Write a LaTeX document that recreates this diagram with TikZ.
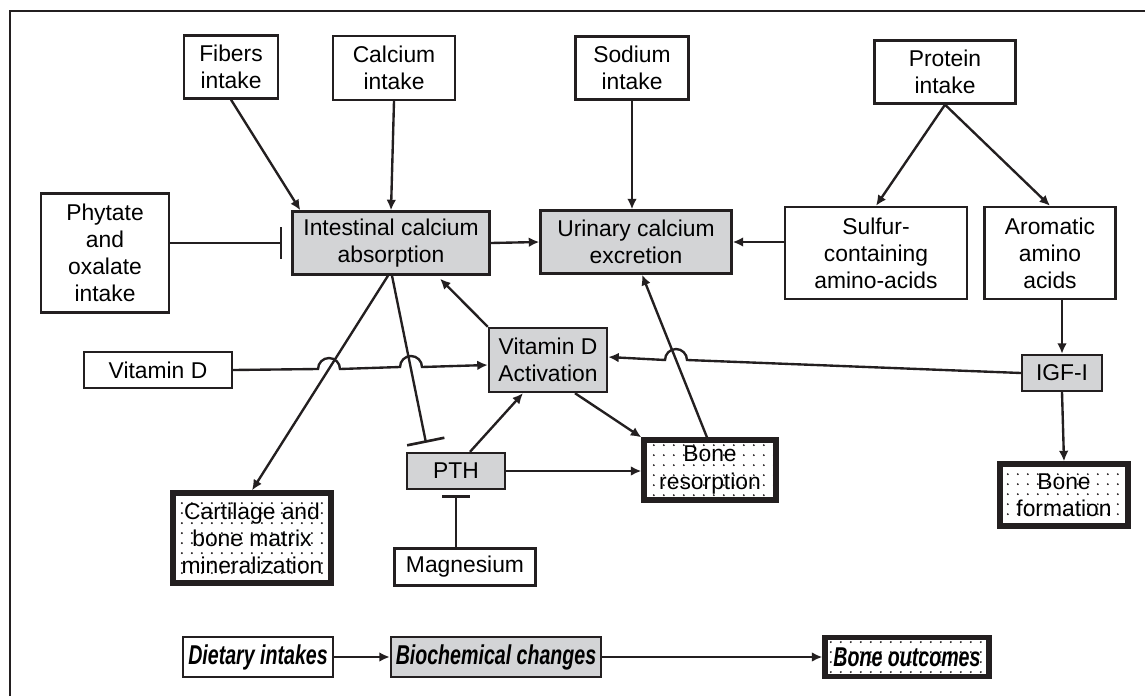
\documentclass[tikz,border=0pt]{standalone}
\usepackage{fontspec}
\setmainfont{Liberation Sans}
\newfontfamily\legendfont[FakeStretch=0.72]{Liberation Sans}
\usepackage{tikz}
\usetikzlibrary{arrows.meta, positioning, calc, patterns.meta}
\definecolor{inkdark}{RGB}{35,31,32}
\definecolor{procgray}{RGB}{211,212,214}
\newcommand{\boxfont}{\fontsize{13}{15.4}\selectfont}
\tikzdeclarepattern{
  name=sparsedots,
  type=uncolored,
  bounding box={(0pt,0pt) and (5.6pt,5.6pt)},
  tile size={(5.6pt,5.6pt)},
  code={\fill (2.8pt,2.8pt) circle (0.6pt);}
}

\begin{document}
\begin{tikzpicture}[x=0.02cm,y=-0.02cm,
  % pixel grid: x to the right, y downwards
  inbox/.style={draw=inkdark,line width=1.35pt,align=center,inner sep=0pt,font=\boxfont},
  proc/.style={inbox,fill=procgray},
  outc/.style={inbox,line width=3pt,pattern=sparsedots,pattern color=inkdark},
  legend/.style={font=\legendfont\fontsize{15.5}{17}\selectfont\bfseries\itshape},
  arr/.style={-{Latex[length=6pt,width=5.5pt]},line width=1.35pt,draw=inkdark},
  inhib/.style={-{Bar[width=#1,line width=1.5pt]},line width=1.35pt,draw=inkdark},
  inhib/.default=0.64cm]

  \useasboundingbox (0,0) rectangle (1145,696);
  \draw[line width=1.6pt,inkdark] (10,696) -- (10,11) -- (1145,11);

  % dietary intakes
  \node[inbox,minimum width=1.88cm,minimum height=1.26cm](fib) at (231,67) {Fibers\\intake};
  \node[inbox,minimum width=2.44cm,minimum height=1.28cm](cal) at (394,68) {Calcium\\intake};
  \node[inbox,minimum width=2.26cm,minimum height=1.26cm](sod) at (632,68) {Sodium\\intake};
  \node[inbox,minimum width=2.82cm,minimum height=1.26cm](pro) at (945,72) {Protein\\intake};
  \node[inbox,minimum width=2.56cm,minimum height=2.38cm](phy) at (105,253) {Phytate\\and\\oxalate\\intake};
  \node[inbox,minimum width=3.64cm,minimum height=1.84cm](sul) at (876,253) {Sulfur-\\containing\\amino-acids};
  \node[inbox,minimum width=2.62cm,minimum height=1.84cm](aro) at (1050,253) {Aromatic\\amino\\acids};
  \node[inbox,minimum width=2.96cm,minimum height=0.72cm](vitd) at (158,370) {Vitamin D};
  \node[inbox,minimum width=2.82cm,minimum height=0.74cm](mag) at (465,567) {Magnesium};

  % biochemical changes
  \node[proc,minimum width=3.94cm,minimum height=1.26cm](ica) at (391,243) {Intestinal calcium\\absorption};
  \node[proc,minimum width=3.82cm,minimum height=1.26cm](uce) at (636,242) {Urinary calcium\\excretion};
  \node[proc,minimum width=2.36cm,minimum height=1.28cm](vda) at (548,360) {Vitamin D\\Activation};
  \node[proc,minimum width=1.6cm,minimum height=0.72cm](igf) at (1062,373) {IGF-I};
  \node[proc,minimum width=1.96cm,minimum height=0.72cm](pth) at (456,471) {PTH};

  % bone outcomes
  \node[outc,minimum width=2.64cm,minimum height=1.2cm](bres) at (710,470) {Bone\\resorption};
  \node[outc,minimum width=3.16cm,minimum height=1.8cm](cart) at (252,538) {Cartilage and\\bone matrix\\mineralization};
  \node[outc,minimum width=2.56cm,minimum height=1.24cm](bfor) at (1064,495) {Bone\\formation};

  % legend
  \node[inbox,legend,minimum width=3.0cm,minimum height=0.8cm](diet) at (258,657) {Dietary intakes};
  \node[proc,legend,minimum width=4.2cm,minimum height=0.8cm](bioc) at (496,657) {Biochemical changes};
  \node[outc,legend,minimum width=3.28cm,minimum height=0.78cm](bout) at (907,657) {Bone outcomes};

  \coordinate (hopa) at (318,369);
  \coordinate (hopb) at (400,367);
  \coordinate (hopc) at (687,360);

  \draw[arr] (fib.south) -- ([xshift=0.18cm]ica.north west);
  \draw[arr] (cal.south) -- (ica.north);
  \draw[arr] (sod.south) -- (sod.south |- uce.north);
  \draw[arr] (pro.south) -- (sul.north);
  \draw[arr] (pro.south) -- (aro.north);
  \draw[inhib] (phy.east |- ica.west) -- ([xshift=-0.18cm]ica.west);
  \draw[arr] (ica.east) -- (uce.west);
  \draw[arr] (sul.west |- uce.east) -- (uce.east);
  \draw[arr] (aro.south -| igf.north) -- (igf.north);
  \draw[arr] (igf.south) -- (bfor.north);
  \draw[arr] ([xshift=-0.06cm]ica.south) -- (cart.north);
  \draw[inhib=0.76cm] ([xshift=0.02cm]ica.south) -- ([xshift=-0.6cm,yshift=0.18cm]pth.north);
  \draw[inhib=0.56cm] (mag.north -| pth.south) -- ([yshift=-0.1cm]pth.south);
  \draw[arr] (vda.north west) -- ([xshift=0.98cm,yshift=-0.06cm]ica.south);
  \draw[arr] ([xshift=0.28cm]pth.north) -- ([xshift=-0.5cm]vda.south);
  \draw[arr] (pth.east) -- (pth.east -| bres.west);
  \draw[arr] ([xshift=0.54cm]vda.south) -- (bres.north west);
  \draw[arr] ([xshift=-0.06cm]bres.north) -- ([xshift=0.12cm]uce.south);
  \draw[arr] (vitd.east) -- (hopa) arc[start angle=180,end angle=0,radius=0.22cm]
    -- (hopb) arc[start angle=180,end angle=0,radius=0.22cm] -- ([yshift=-0.1cm]vda.west);
  \draw[arr] (igf.west) -- (hopc) arc[start angle=0,end angle=180,radius=0.22cm]
    -- ([yshift=0.06cm]vda.east);

  \draw[arr] (diet.east) -- (bioc.west);
  \draw[arr] (bioc.east) -- (bout.west);

\end{tikzpicture}
\end{document}
